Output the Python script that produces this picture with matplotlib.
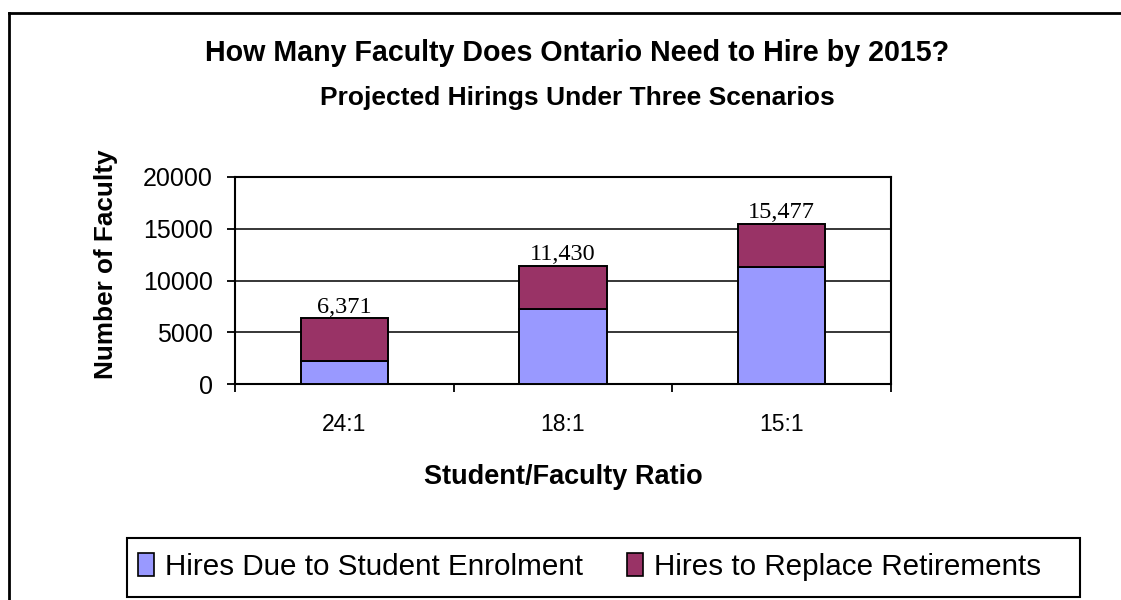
import matplotlib
matplotlib.use("Agg")
import matplotlib.pyplot as plt
import numpy as np
from matplotlib.lines import Line2D
from matplotlib.patches import Patch, Rectangle

# Scenario data
ratios = ["24:1", "18:1", "15:1"]
total_hires = [6371, 11430, 15477]
enrolment_hires = [2250, 7250, 11300]
retirement_hires = [t - e for t, e in zip(total_hires, enrolment_hires)]
total_labels = ["6,371", "11,430", "15,477"]
y_ticks = [0, 5000, 10000, 15000, 20000]

series_names = ["Hires Due to Student Enrolment", "Hires to Replace Retirements"]
c_enrol = "#9999FF"
c_retire = "#993366"

W, H = 1121, 600
fig = plt.figure(figsize=(W / 100, H / 100), dpi=100)
plt.rcParams["font.family"] = ["Liberation Sans", "DejaVu Sans"]

def fx(px):
    return px / W

def fy(py):
    return 1 - py / H

ax = fig.add_axes([fx(235), fy(384), fx(891) - fx(235), fy(177) - fy(384)])

x = np.arange(len(ratios))
bw = 0.4
ax.bar(x, enrolment_hires, bw, color=c_enrol, edgecolor="black", linewidth=1.4, zorder=3)
ax.bar(x, retirement_hires, bw, bottom=enrolment_hires, color=c_retire,
       edgecolor="black", linewidth=1.4, zorder=3)

for xi, tot, lab in zip(x, total_hires, total_labels):
    ax.annotate(lab, (xi, tot), xytext=(0, 4), textcoords="offset points",
                ha="center", va="baseline", fontsize=17.5,
                family=["Liberation Serif", "DejaVu Serif"])

ax.set_xlim(-0.5, 2.5)
ax.set_ylim(0, 20000)
ax.set_yticks(y_ticks)
ax.set_yticklabels([str(v) for v in y_ticks], fontsize=18)
ax.yaxis.grid(True, color="black", linewidth=1.1, zorder=1)
ax.set_axisbelow(True)

# category ticks between groups, labels centred under bars
ax.set_xticks([-0.5, 0.5, 1.5, 2.5])
ax.set_xticklabels([])
ax.set_xticks(x, minor=True)
ax.set_xticklabels(ratios, minor=True, fontsize=16.5)
ax.tick_params(axis="x", which="minor", length=0, pad=21)
ax.tick_params(axis="x", which="major", direction="out", length=6, width=1.3)
ax.tick_params(axis="y", direction="out", length=6, width=1.3, pad=10)

for side in ["left", "bottom", "right", "top"]:
    ax.spines[side].set_linewidth(1.5)
    ax.spines[side].set_color("black")

ax.set_xlabel("Student/Faculty Ratio", fontsize=19.5, fontweight="bold", labelpad=20)
fig.text(fx(106), fy(264), "Number of Faculty", rotation=90, ha="center", va="center",
         fontsize=18.8, fontweight="bold")

fig.text(fx(577), fy(53), "How Many Faculty Does Ontario Need to Hire by 2015?",
         ha="center", va="center", fontsize=20.6, fontweight="bold")
fig.text(fx(577), fy(98), "Projected Hirings Under Three Scenarios",
         ha="center", va="center", fontsize=19, fontweight="bold")

# legend box
fig.add_artist(Rectangle((fx(127), fy(597)), fx(1080) - fx(127), fy(538) - fy(597),
                         transform=fig.transFigure, facecolor="white",
                         edgecolor="black", linewidth=1.5))
handles = [Patch(facecolor=c_enrol, edgecolor="black", linewidth=1.2),
           Patch(facecolor=c_retire, edgecolor="black", linewidth=1.2)]
leg = fig.legend(handles, series_names, loc="center left",
                 bbox_to_anchor=(fx(138), fy(567)), ncol=2, fontsize=21.3,
                 frameon=False, handlelength=0.55, handleheight=0.8,
                 handletextpad=0.35, columnspacing=1.5, borderpad=0,
                 borderaxespad=0)
leg.set_zorder(5)

# outer chart frame
fig.add_artist(Line2D([fx(8.5), fx(8.5)], [fy(12.5), 0], color="black", linewidth=2))
fig.add_artist(Line2D([fx(8.5), 1], [fy(12.5), fy(12.5)], color="black", linewidth=2))

fig.savefig("out.png", dpi=100, facecolor="white")
